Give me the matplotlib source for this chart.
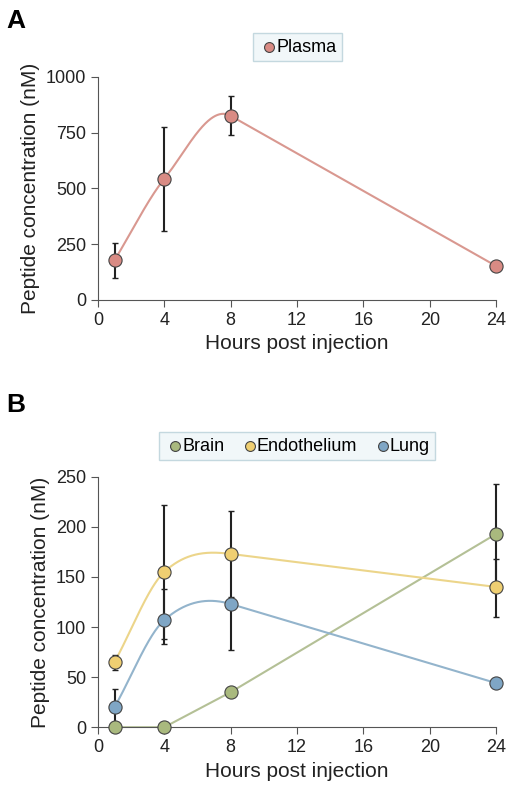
import numpy as np
import matplotlib
matplotlib.use("Agg")
import matplotlib.pyplot as plt

plt.rcParams['font.family'] = ['Liberation Sans', 'DejaVu Sans']

hours = [1, 4, 8, 24]
plasma = [178, 543, 825, 152]
plasma_lo = [100, 310, 740, 152]
plasma_hi = [255, 775, 915, 152]
brain = [0, 0, 35, 193]
brain_lo = [0, 0, 35, 143]
brain_hi = [0, 0, 35, 243]
endo = [65, 155, 173, 140]
endo_lo = [57, 88, 130, 110]
endo_hi = [72, 222, 216, 168]
lung = [20, 107, 123, 44]
lung_lo = [0, 83, 77, 44]
lung_hi = [38, 138, 128, 44]

def smooth(x, y, n=200):
    x = np.asarray(x, float); y = np.asarray(y, float)
    m = np.zeros_like(y)
    m[0] = (y[1]-y[0])/(x[1]-x[0])
    m[1] = (y[2]-y[0])/(x[2]-x[0])
    m[2] = (y[3]-y[2])/(x[3]-x[2])
    m[3] = m[2]
    xs, ys = [], []
    for i in range(len(x)-1):
        h = x[i+1]-x[i]
        s = np.linspace(0, 1, n)
        h00 = 2*s**3-3*s**2+1; h10 = s**3-2*s**2+s
        h01 = -2*s**3+3*s**2; h11 = s**3-s**2
        xs.append(x[i]+s*h)
        ys.append(h00*y[i]+h10*h*m[i]+h01*y[i+1]+h11*h*m[i+1])
    return np.concatenate(xs), np.concatenate(ys)

fig = plt.figure(figsize=(5.1, 8), dpi=100)
ax1 = fig.add_axes([0.192, 0.625, 0.781, 0.279])
ax2 = fig.add_axes([0.192, 0.091, 0.781, 0.313])

def series(ax, y, lo, hi, fc, lc, label, straight=False):
    if straight:
        ax.plot(hours, y, color=lc, lw=1.5, zorder=2)
    else:
        xs, ys = smooth(hours, y)
        ax.plot(xs, ys, color=lc, lw=1.5, zorder=2)
    yerr = [np.array(y)-np.array(lo), np.array(hi)-np.array(y)]
    ax.errorbar(hours, y, yerr=yerr, fmt='none', ecolor='#222222', elinewidth=1.5, capsize=2.5, zorder=3, clip_on=False)
    ax.scatter(hours, y, s=90, color=fc, edgecolor='#444444', linewidth=0.8, zorder=4, clip_on=False, label=label)

series(ax1, plasma, plasma_lo, plasma_hi, '#d98b84', '#d99890', 'Plasma')
series(ax2, brain, brain_lo, brain_hi, '#a9b97e', '#b4c096', 'Brain', straight=True)
series(ax2, endo, endo_lo, endo_hi, '#efcf72', '#ecd58a', 'Endothelium')
series(ax2, lung, lung_lo, lung_hi, '#7fa6c5', '#93b4cc', 'Lung')

for ax, ylim, yt in [(ax1, 1000, [0, 250, 500, 750, 1000]), (ax2, 250, [0, 50, 100, 150, 200, 250])]:
    ax.set_xlim(0, 24)
    ax.set_ylim(0, ylim)
    ax.set_yticks(yt)
    ax.set_xticks([0, 4, 8, 12, 16, 20, 24])
    for s in ['top', 'right']:
        ax.spines[s].set_visible(False)
    for s in ['left', 'bottom']:
        ax.spines[s].set_color('#555555')
    ax.tick_params(labelsize=13, color='#555555', labelcolor='#222222', length=5)
    ax.set_xlabel('Hours post injection', fontsize=15, color='#222222')
    ax.set_ylabel('Peptide concentration (nM)', fontsize=15, color='#222222')
    leg = ax.legend(loc='lower center', bbox_to_anchor=(0.5, 1.03), ncol=3, fontsize=13,
                    frameon=True, fancybox=False, handletextpad=-0.2, columnspacing=0.8,
                    markerscale=0.75, borderpad=0.3, handlelength=1.2)
    leg.get_frame().set_facecolor('#eef6f8')
    leg.get_frame().set_edgecolor('#b7d0d8')

fig.text(0.012, 0.965, 'A', fontsize=19, fontweight='bold')
fig.text(0.012, 0.485, 'B', fontsize=19, fontweight='bold')
fig.savefig('out.png', dpi=100)
